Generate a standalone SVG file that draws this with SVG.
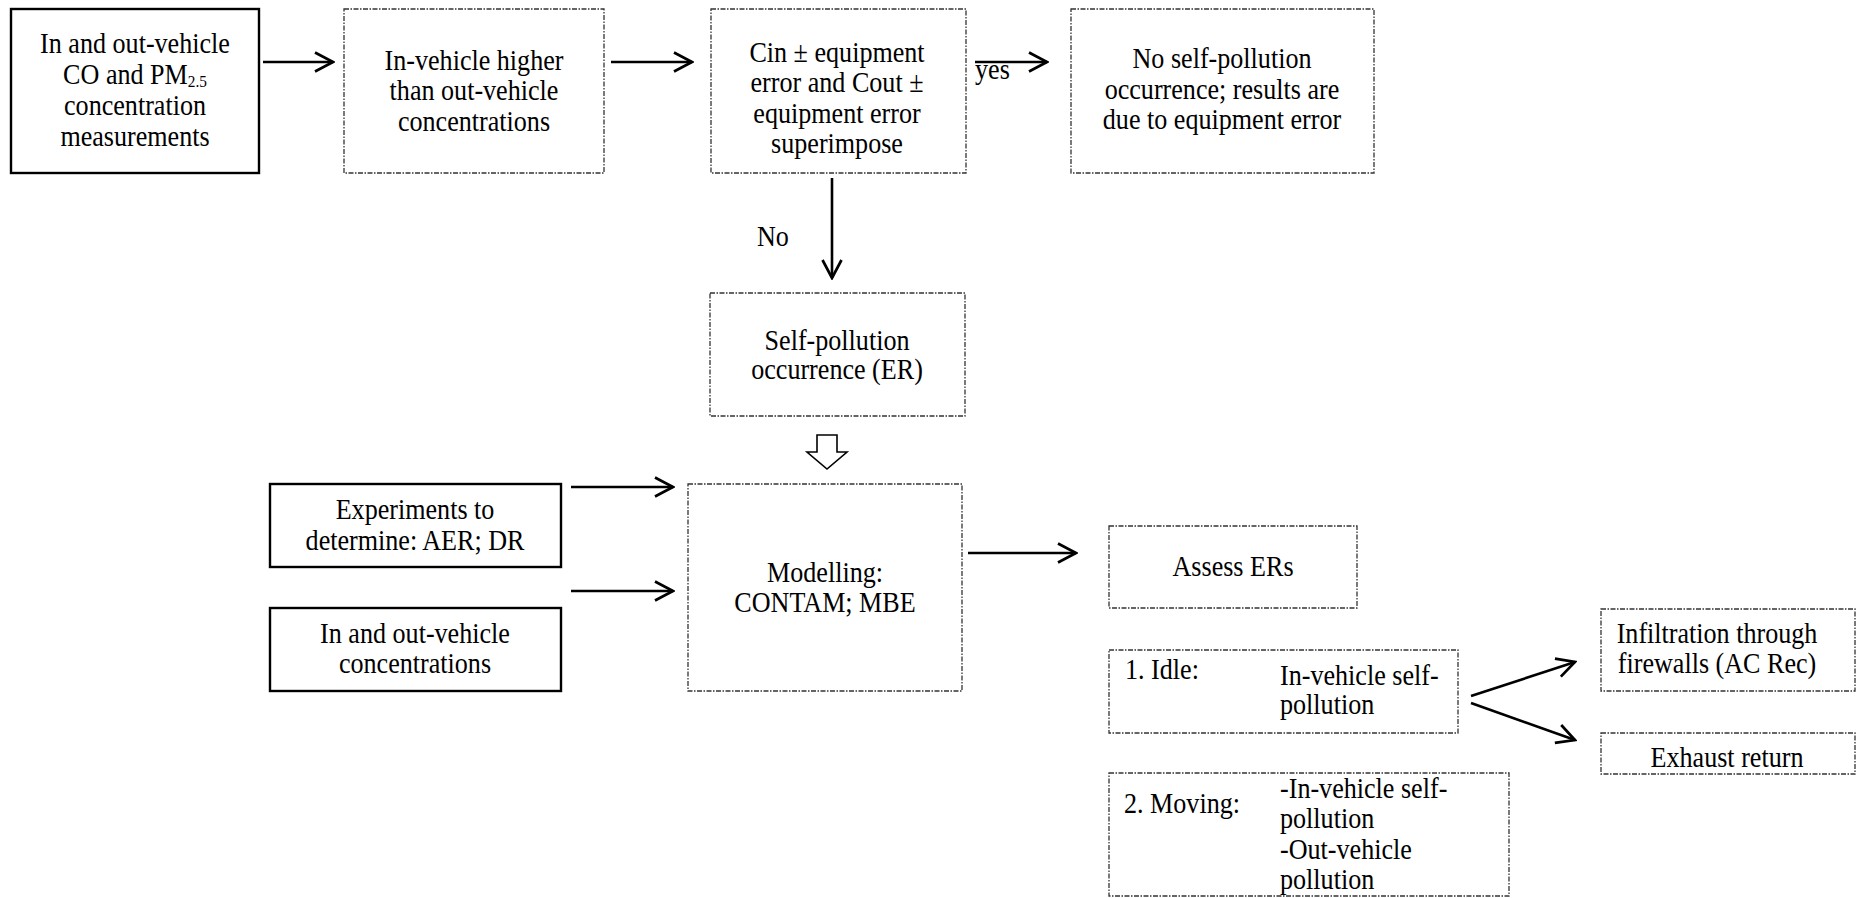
<svg xmlns="http://www.w3.org/2000/svg" width="1856" height="898" viewBox="0 0 1856 898">
<style>
.solid{fill:#fff;stroke:#000;stroke-width:2.4}
.dash{fill:#fff;stroke:#333;stroke-width:1.3;stroke-dasharray:5 1.5 1.5 1.5}
text{font-family:"Liberation Serif","Times New Roman",serif;font-size:29px;fill:#000}
.c{text-anchor:middle}
.conn line{stroke:#000;stroke-width:2.6;fill:none;marker-end:url(#ah)}
</style>
<defs>
<marker id="ah" viewBox="0 0 22 22" refX="20" refY="11" markerWidth="22" markerHeight="22" markerUnits="userSpaceOnUse" orient="auto">
<path d="M2,1.5 L20,11 L2,20.5" fill="none" stroke="#000" stroke-width="2.7"/>
</marker>
</defs>
<rect width="1856" height="898" fill="#fff"/>
<g id="n1"><rect class="solid" x="11" y="9" width="248" height="164"/>
<text class="c" transform="matrix(0.9 0 0 1 135 0)"><tspan x="0" y="53">In and out-vehicle</tspan><tspan x="0" y="84">CO and PM<tspan font-size="17" dy="3">2.5</tspan></tspan><tspan x="0" y="115">concentration</tspan><tspan x="0" y="146">measurements</tspan></text></g>
<g id="n2"><rect class="dash" x="344" y="9" width="260" height="164"/>
<text class="c" transform="matrix(0.9 0 0 1 474 0)"><tspan x="0" y="70">In-vehicle higher</tspan><tspan x="0" y="100.5">than out-vehicle</tspan><tspan x="0" y="131">concentrations</tspan></text></g>
<g id="n3"><rect class="dash" x="711" y="9" width="255" height="164"/>
<text class="c" transform="matrix(0.9 0 0 1 837 0)"><tspan x="0" y="62">Cin ± equipment</tspan><tspan x="0" y="92.5">error and Cout ±</tspan><tspan x="0" y="123">equipment error</tspan><tspan x="0" y="153.5">superimpose</tspan></text></g>
<g id="n4"><rect class="dash" x="1071" y="9" width="303" height="164"/>
<text class="c" transform="matrix(0.9 0 0 1 1222 0)"><tspan x="0" y="68">No self-pollution</tspan><tspan x="0" y="99">occurrence; results are</tspan><tspan x="0" y="129.5">due to equipment error</tspan></text></g>
<g id="n5"><rect class="dash" x="710" y="293" width="255" height="123"/>
<text class="c" transform="matrix(0.9 0 0 1 837 0)"><tspan x="0" y="350">Self-pollution</tspan><tspan x="0" y="379">occurrence (ER)</tspan></text></g>
<g id="n6"><rect class="solid" x="270" y="484" width="291" height="83"/>
<text class="c" transform="matrix(0.9 0 0 1 415 0)"><tspan x="0" y="519">Experiments to</tspan><tspan x="0" y="550">determine: AER; DR</tspan></text></g>
<g id="n7"><rect class="solid" x="270" y="608" width="291" height="83"/>
<text class="c" transform="matrix(0.9 0 0 1 415 0)"><tspan x="0" y="643">In and out-vehicle</tspan><tspan x="0" y="673">concentrations</tspan></text></g>
<g id="n8"><rect class="dash" x="688" y="484" width="274" height="207"/>
<text class="c" transform="matrix(0.9 0 0 1 825 0)"><tspan x="0" y="582">Modelling:</tspan><tspan x="0" y="612">CONTAM; MBE</tspan></text></g>
<g id="n9"><rect class="dash" x="1109" y="526" width="248" height="82"/>
<text class="c" transform="matrix(0.9 0 0 1 1233 0)"><tspan x="0" y="576">Assess ERs</tspan></text></g>
<g id="n10"><rect class="dash" x="1109" y="650" width="349" height="83"/>
<text transform="matrix(0.9 0 0 1 1125 0)"><tspan x="0" y="679">1. Idle:</tspan></text>
<text transform="matrix(0.9 0 0 1 1280 0)"><tspan x="0" y="685">In-vehicle self-</tspan><tspan x="0" y="714">pollution</tspan></text></g>
<g id="n11"><rect class="dash" x="1109" y="773" width="400" height="123"/>
<text transform="matrix(0.9 0 0 1 1124 0)"><tspan x="0" y="813">2. Moving:</tspan></text>
<text transform="matrix(0.9 0 0 1 1280 0)"><tspan x="0" y="798">-In-vehicle self-</tspan><tspan x="0" y="828">pollution</tspan><tspan x="0" y="859">-Out-vehicle</tspan><tspan x="0" y="889">pollution</tspan></text></g>
<g id="n12"><rect class="dash" x="1601" y="609" width="254" height="82"/>
<text class="c" transform="matrix(0.9 0 0 1 1717 0)"><tspan x="0" y="643">Infiltration through</tspan><tspan x="0" y="673">firewalls (AC Rec)</tspan></text></g>
<g id="n13"><rect class="dash" x="1601" y="733" width="254" height="41"/>
<text class="c" transform="matrix(0.9 0 0 1 1727 0)"><tspan x="0" y="767">Exhaust return</tspan></text></g>
<g id="connectors" class="conn">
<line x1="263" y1="62" x2="333" y2="62"/>
<line x1="611" y1="62" x2="692" y2="62"/>
<line x1="975" y1="62" x2="1047" y2="62"/>
<line x1="832" y1="178" x2="832" y2="278"/>
<polygon points="817,435 837,435 837,452 847,452 827,469 807,452 817,452" fill="#fff" stroke="#000" stroke-width="1.6"/>
<line x1="571" y1="487" x2="673" y2="487"/>
<line x1="571" y1="591" x2="673" y2="591"/>
<line x1="968" y1="553" x2="1076" y2="553"/>
<line x1="1471" y1="696" x2="1575" y2="662"/>
<line x1="1471" y1="703" x2="1575" y2="740"/>
<text transform="matrix(0.9 0 0 1 975 0)"><tspan x="0" y="79">yes</tspan></text>
<text transform="matrix(0.9 0 0 1 757 0)"><tspan x="0" y="246">No</tspan></text>
</g>
</svg>
